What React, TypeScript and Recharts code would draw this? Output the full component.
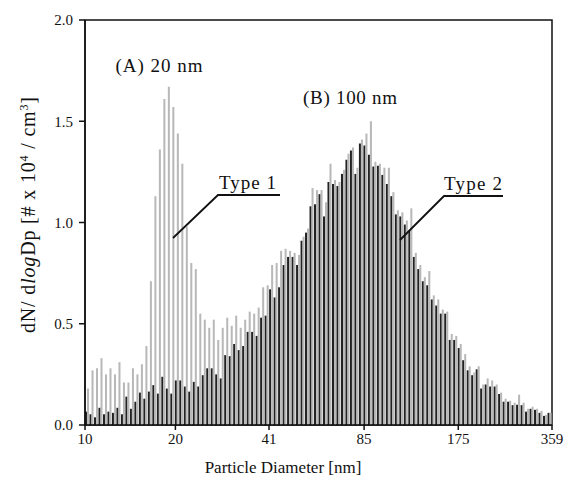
import { BarChart, Bar, XAxis, YAxis, ReferenceArea } from 'recharts';

// SMPS channel values (left to right, 104 channels from 10 to 359 nm)
const type2Values = [
  0.066, 0.053, 0.038, 0.085, 0.053, 0.066, 0.06, 0.085, 0.053, 0.14,
  0.08, 0.115, 0.16, 0.13, 0.165, 0.197, 0.155, 0.238, 0.18, 0.155,
  0.22, 0.22, 0.19, 0.165, 0.213, 0.19, 0.246, 0.28, 0.28, 0.25,
  0.23, 0.345, 0.34, 0.4, 0.37, 0.39, 0.46, 0.46, 0.44, 0.53,
  0.54, 0.67, 0.63, 0.68, 0.79, 0.83, 0.83, 0.79, 0.91, 0.95,
  1.08, 1.09, 1.14, 1.03, 1.2, 1.19, 1.18, 1.24, 1.31, 1.355,
  1.24, 1.39, 1.38, 1.335, 1.276, 1.28, 1.235, 1.19, 1.13, 1.04,
  1.03, 0.99, 0.96, 0.83, 0.77, 0.71, 0.69, 0.62, 0.59, 0.55,
  0.55, 0.42, 0.42, 0.38, 0.32, 0.27, 0.246, 0.275, 0.18, 0.2,
  0.19, 0.19, 0.153, 0.115, 0.115, 0.098, 0.1, 0.098, 0.066, 0.08,
  0.075, 0.06, 0.045, 0.06,
];

const type1Values = [
  0.18, 0.27, 0.28, 0.33, 0.25, 0.28, 0.25, 0.31, 0.21, 0.21,
  0.28, 0.25, 0.3, 0.39, 0.71, 1.13, 1.36, 1.61, 1.67, 1.57,
  1.44, 1.29, 0.98, 0.8, 0.77, 0.55, 0.52, 0.48, 0.52, 0.42,
  0.48, 0.53, 0.49, 0.54, 0.48, 0.52, 0.56, 0.55, 0.58, 0.68,
  0.69, 0.79, 0.8, 0.86, 0.87, 0.86, 0.85, 0.84, 0.93, 0.97,
  1.17, 1.16, 1.16, 1.1, 1.29, 1.21, 1.2, 1.26, 1.34, 1.37,
  1.27, 1.41, 1.44, 1.5, 1.3, 1.29, 1.27, 1.27, 1.15, 1.06,
  1.05, 1.01, 1.07, 0.85, 0.79, 0.73, 0.76, 0.64, 0.62, 0.57,
  0.56, 0.45, 0.44, 0.4, 0.35, 0.29, 0.26, 0.29, 0.2, 0.23,
  0.22, 0.2, 0.16, 0.13, 0.12, 0.11, 0.15, 0.11, 0.08, 0.09,
  0.08, 0.07, 0.05, 0.06,
];

// channel mid-points, log spaced between the axis ends
const channelCount = type2Values.length;
const diameters = type2Values.map((_, i) => 10 * Math.pow(35.9, (i + 0.5) / channelCount));

const xTicks = [10, 20, 41, 85, 175, 359];
const yTicks = [0, 0.5, 1.0, 1.5, 2.0];

const data = diameters.map((d, i) => ({
  d,
  type1: type1Values[i],
  type2: type2Values[i],
}));

const serif = '"Liberation Serif", "DejaVu Serif", serif';

export default function App() {
  return (
    <div style={{ position: 'absolute', left: 0, top: 0, width: 566, height: 485, background: '#fff' }}>
      <BarChart
        width={566}
        height={485}
        data={data}
        margin={{ top: 20, right: 14, bottom: 0, left: 0 }}
        barGap={0}
        barCategoryGap={0}
      >
        <XAxis
          dataKey="d"
          type="number"
          scale="log"
          domain={[10, 359]}
          ticks={xTicks}
          allowDataOverflow
          height={60}
          tickSize={5}
          tickMargin={3}
          stroke="#111"
          strokeWidth={1.5}
          tick={{ fill: '#111', fontSize: 15, fontFamily: serif }}
        />
        <YAxis
          type="number"
          domain={[0, 2]}
          ticks={yTicks}
          width={85}
          tickSize={6}
          tickMargin={6}
          stroke="#111"
          strokeWidth={1.5}
          tickFormatter={(v: number) => v.toFixed(1)}
          tick={{ fill: '#111', fontSize: 15, fontFamily: serif }}
        />
        <Bar dataKey="type2" fill="#222" barSize={3} isAnimationActive={false} />
        <Bar dataKey="type1" fill="#b8b8b8" barSize={2} isAnimationActive={false} />
        <ReferenceArea x1={10} x2={359} y1={0} y2={2} fill="none" stroke="#111" strokeWidth={1.5} ifOverflow="visible" />
      </BarChart>

      <svg
        width={566}
        height={485}
        style={{ position: 'absolute', left: 0, top: 0, pointerEvents: 'none' }}
        fontFamily={serif}
        fill="#111"
      >
        <text x={159} y={72} fontSize={19} textAnchor="middle" textLength={87}>(A) 20 nm</text>
        <text x={350} y={104} fontSize={19} textAnchor="middle" textLength={94}>(B) 100 nm</text>

        <text x={219} y={189} fontSize={19} textLength={57}>Type 1</text>
        <polyline points="280,195 218,195 173,238" fill="none" stroke="#111" strokeWidth={1.8} />

        <text x={444} y={190} fontSize={19} textLength={58}>Type 2</text>
        <polyline points="503,196 444,196 400,240" fill="none" stroke="#111" strokeWidth={1.8} />

        <text x={283} y={473} fontSize={17} textAnchor="middle">Particle Diameter [nm]</text>

        <text transform="translate(35,215) rotate(-90)" fontSize={20} textAnchor="middle" textLength={236}>
          dN/ d<tspan fontStyle="italic">log</tspan>Dp [# x 10<tspan dy={-7} fontSize={12}>4</tspan>
          <tspan dy={7}> / cm</tspan><tspan dy={-7} fontSize={12}>3</tspan><tspan dy={7}>]</tspan>
        </text>
      </svg>
    </div>
  );
}
